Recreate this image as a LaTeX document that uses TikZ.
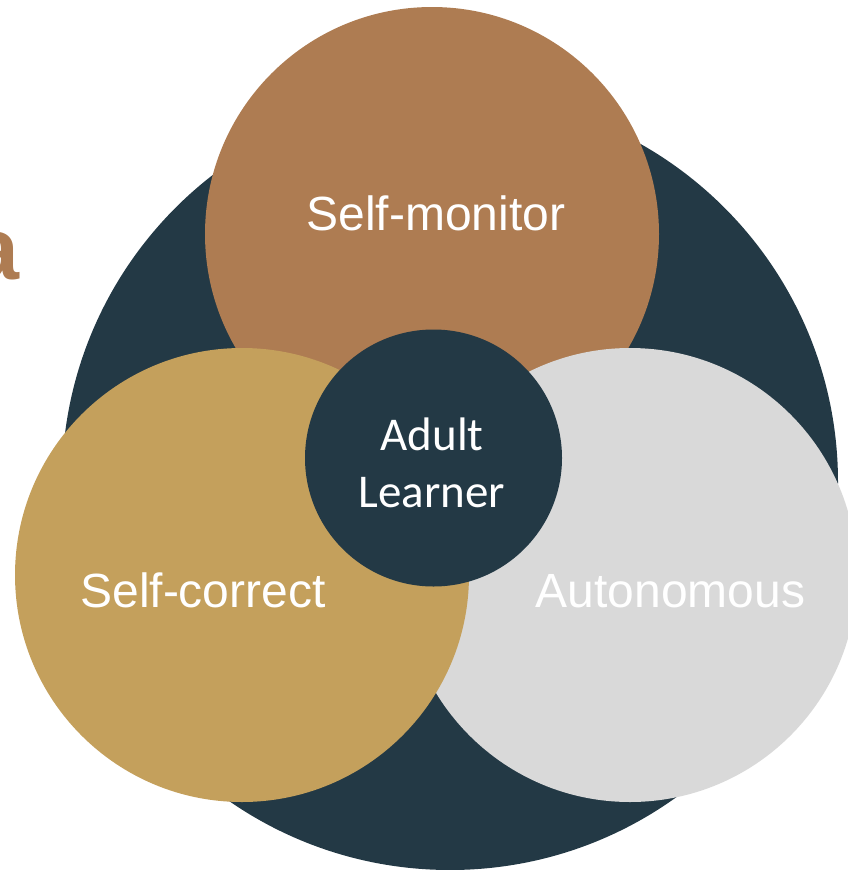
\documentclass[tikz,border=0pt]{standalone}
\usepackage{fontspec}
\setmainfont{Liberation Sans}
\newfontfamily\calibri{Carlito}
\usepackage{tikz}
\usetikzlibrary{positioning}
\definecolor{slate}{HTML}{233945}
\definecolor{copper}{HTML}{AE7C52}
\definecolor{ochre}{HTML}{C4A05C}
\definecolor{mist}{HTML}{D9D9D9}
\tikzstyle{disc}  =[circle, inner sep=0pt, outer sep=0pt,
                    minimum size=454pt]
\tikzstyle{word}  =[text=white, inner sep=0pt, anchor=base,
                    font=\fontsize{48}{48}\selectfont]
\tikzstyle{core}  =[text=white, inner sep=0pt, anchor=base,
                    font=\calibri\fontsize{47}{47}\selectfont]

\begin{document}
\begin{tikzpicture}[x=1pt, y=-1pt]
    \useasboundingbox (0,0) rectangle (848,870);
    \node[anchor=base east, inner sep=0pt, text=copper,
          font=\bfseries\fontsize{88}{88}\selectfont] (title) at (20,279) {a};
    \node[disc, fill=slate, minimum size=776pt] (outer) at (450,482) {};
    \node[disc, fill=copper] (monitor) at (432,234) {};
    \node[disc, fill=mist] (auto) at (630,575) {};
    \node[disc, fill=ochre] (correct) at (242,575) {};
    \node[disc, fill=slate, minimum size=257pt] (learner) at (433.5,458) {};

    \node[word] (monitortext) at (436,230) {Self-monitor};
    \node[word] (correcttext) at (203,607) {Self-correct};
    \node[word] (autotext) at (670.5,607) {Autonomous};
    \node[core] (adult) at (432,450) {Adult};
    \node[core] (learn) at (432,507.5) {Learner};
\end{tikzpicture}
\end{document}
